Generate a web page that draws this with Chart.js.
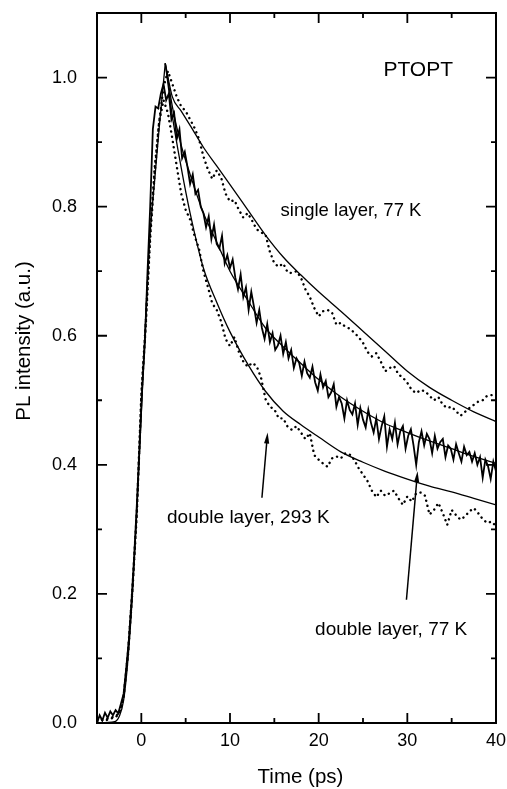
<!DOCTYPE html>
<html>
<head>
<meta charset="utf-8">
<title>PTOPT PL decay</title>
<script src="https://cdn.jsdelivr.net/npm/chart.js@4.4.1/dist/chart.umd.min.js"></script>
<style>
  body { margin: 0; background: #fff; }
  #wrap { position: relative; width: 507px; height: 789px; }
</style>
</head>
<body>
<div id="wrap"><canvas id="plChart"></canvas></div>
<script>
// time grid of the two dotted traces (ps)
const dotTime = [
  -5, -4.5, -4, -3.5, -3, -2.5, -2, -1.5, -1, -0.5,
  0, 0.5, 1, 1.5, 2, 2.5, 3, 3.5, 4, 4.5,
  5, 5.5, 6, 6.5, 7, 7.5, 8, 8.5, 9, 9.5,
  10, 10.5, 11, 11.5, 12, 12.5, 13, 13.5, 14, 14.5,
  15, 15.5, 16, 16.5, 17, 17.5, 18, 18.5, 19, 19.5,
  20, 20.5, 21, 21.5, 22, 22.5, 23, 23.5, 24, 24.5,
  25, 25.5, 26, 26.5, 27, 27.5, 28, 28.5, 29, 29.5,
  30, 30.5, 31, 31.5, 32, 32.5, 33, 33.5, 34, 34.5,
  35, 35.5, 36, 36.5, 37, 37.5, 38, 38.5, 39, 39.5,
  40
];
// single layer, 77 K (dotted, upper)
const singleLayer77 = [
  0.005, 0.004, 0.006, 0.008, 0.01, 0.015, 0.04, 0.11, 0.21, 0.33,
  0.51, 0.62, 0.76, 0.86, 0.93, 0.985, 1.01, 0.99, 0.97, 0.955,
  0.948, 0.935, 0.922, 0.905, 0.878, 0.858, 0.843, 0.856, 0.845, 0.82,
  0.808, 0.81, 0.795, 0.783, 0.79, 0.778, 0.765, 0.76, 0.757, 0.73,
  0.712, 0.707, 0.712, 0.698, 0.697, 0.70, 0.69, 0.672, 0.66, 0.643,
  0.63, 0.638, 0.64, 0.636, 0.617, 0.62, 0.614, 0.611, 0.605, 0.598,
  0.589, 0.575, 0.568, 0.573, 0.56, 0.545, 0.55, 0.553, 0.54, 0.535,
  0.527, 0.516, 0.511, 0.516, 0.514, 0.507, 0.50, 0.505, 0.493, 0.488,
  0.49, 0.483, 0.476, 0.482, 0.488, 0.493, 0.498, 0.50, 0.507, 0.508,
  null
];
// double layer, 293 K (dotted, lower)
const doubleLayer293 = [
  0.003, 0.006, 0.004, 0.007, 0.008, 0.014, 0.04, 0.105, 0.205, 0.325,
  0.505, 0.615, 0.75, 0.85, 0.93, 0.965, 0.945, 0.905, 0.862, 0.82,
  0.795, 0.78, 0.755, 0.735, 0.70, 0.676, 0.65, 0.64, 0.622, 0.595,
  0.584, 0.598, 0.575, 0.56, 0.552, 0.558, 0.553, 0.535, 0.502, 0.49,
  0.486, 0.472, 0.472, 0.459, 0.454, 0.46, 0.45, 0.44, 0.449, 0.415,
  0.408, 0.402, 0.397, 0.41, 0.413, 0.41, 0.418, 0.416, 0.408, 0.395,
  0.385, 0.375, 0.36, 0.35, 0.36, 0.352, 0.356, 0.36, 0.348, 0.338,
  0.351, 0.343, 0.356, 0.357, 0.352, 0.323, 0.33, 0.341, 0.325, 0.307,
  0.33, 0.322, 0.315, 0.32, 0.328, 0.333, 0.325, 0.316, 0.31, 0.312,
  0.305
];

// time grid of the solid (noisy) trace
const solidTime = [
  -5.0, -4.7, -4.4, -4.1, -3.8, -3.5, -3.2, -2.9, -2.6, -2.3,
  -2.0, -1.7, -1.4, -1.1, -0.8, -0.5, -0.2, 0.1, 0.4, 0.7,
  1.0, 1.3, 1.6, 1.9, 2.2, 2.5, 2.8, 3.1, 3.4, 3.7,
  4.0, 4.3, 4.6, 4.9, 5.2, 5.5, 5.8, 6.1, 6.4, 6.7,
  7.0, 7.3, 7.6, 7.9, 8.2, 8.5, 8.8, 9.1, 9.4, 9.7,
  10.0, 10.3, 10.6, 10.9, 11.2, 11.5, 11.8, 12.1, 12.4, 12.7,
  13.0, 13.3, 13.6, 13.9, 14.2, 14.5, 14.8, 15.1, 15.4, 15.7,
  16.0, 16.3, 16.6, 16.9, 17.2, 17.5, 17.8, 18.1, 18.4, 18.7,
  19.0, 19.3, 19.6, 19.9, 20.2, 20.5, 20.8, 21.1, 21.4, 21.7,
  22.0, 22.3, 22.6, 22.9, 23.2, 23.5, 23.8, 24.1, 24.4, 24.7,
  25.0, 25.3, 25.6, 25.9, 26.2, 26.5, 26.8, 27.1, 27.4, 27.7,
  28.0, 28.3, 28.6, 28.9, 29.2, 29.5, 29.8, 30.1, 30.4, 30.7,
  31.0, 31.3, 31.6, 31.9, 32.2, 32.5, 32.8, 33.1, 33.4, 33.7,
  34.0, 34.3, 34.6, 34.9, 35.2, 35.5, 35.8, 36.1, 36.4, 36.7,
  37.0, 37.3, 37.6, 37.9, 38.2, 38.5, 38.8, 39.1, 39.4, 39.7,
  40.0
];
// double layer, 77 K (solid, middle)
const doubleLayer77 = [
  0.0, 0.012, 0.004, 0.016, 0.008, 0.018, 0.012, 0.02, 0.015, 0.03,
  0.045, 0.085, 0.13, 0.19, 0.26, 0.34, 0.43, 0.52, 0.59, 0.70,
  0.80, 0.92, 0.955, 0.952, 0.975, 0.99, 0.965, 0.975, 0.935, 0.945,
  0.905, 0.92, 0.875, 0.885, 0.862, 0.835, 0.85, 0.82, 0.826, 0.80,
  0.79, 0.768, 0.785, 0.75, 0.772, 0.742, 0.735, 0.755, 0.712, 0.725,
  0.705, 0.718, 0.69, 0.672, 0.695, 0.66, 0.675, 0.64, 0.668, 0.645,
  0.62, 0.64, 0.612, 0.595, 0.618, 0.59, 0.604, 0.578, 0.585, 0.60,
  0.572, 0.59, 0.565, 0.578, 0.55, 0.565, 0.558, 0.538, 0.56, 0.542,
  0.535, 0.552, 0.528, 0.515, 0.54, 0.52, 0.53, 0.505, 0.512, 0.525,
  0.49, 0.505, 0.495, 0.472, 0.50, 0.485, 0.478, 0.495, 0.462, 0.488,
  0.47, 0.458, 0.485, 0.465, 0.45, 0.472, 0.44, 0.46, 0.475, 0.428,
  0.455, 0.44, 0.465, 0.432, 0.452, 0.46, 0.425, 0.445, 0.455, 0.43,
  0.40, 0.435, 0.452, 0.43, 0.448, 0.44, 0.418, 0.445, 0.425, 0.435,
  0.44, 0.412, 0.43, 0.425, 0.408, 0.432, 0.418, 0.405, 0.428, 0.415,
  0.42, 0.405, 0.418, 0.40, 0.412, 0.38, 0.408, 0.398, 0.378, 0.405,
  0.39
];

// fitted curves: common rise, then one decay per sample
const riseTime = [-5, -3, -2.5, -2, -1.5, -1, -0.5, 0, 0.5, 1, 1.5, 2, 2.7];
const riseFit = [0, 0.002, 0.01, 0.035, 0.1, 0.2, 0.33, 0.48, 0.63, 0.76, 0.84, 0.92, 1.022];
const decayTime = [2.7, 3.5, 4.5, 5.5, 7, 8.5, 10, 12, 14, 16, 18, 20, 22.5, 25, 27.5, 30, 32.5, 35, 37.5, 40];
const fitSingle77 = [1.022, 0.97, 0.948, 0.926, 0.892, 0.863, 0.834, 0.795, 0.756, 0.722, 0.694, 0.668, 0.638, 0.607, 0.576, 0.545, 0.52, 0.5, 0.482, 0.467];
const fitDouble77 = [1.022, 0.955, 0.895, 0.85, 0.79, 0.745, 0.70, 0.655, 0.612, 0.583, 0.557, 0.532, 0.505, 0.483, 0.464, 0.45, 0.437, 0.425, 0.413, 0.402];
const fitDouble293 = [1.022, 0.94, 0.86, 0.79, 0.705, 0.652, 0.606, 0.556, 0.514, 0.483, 0.462, 0.443, 0.42, 0.404, 0.39, 0.378, 0.367, 0.358, 0.348, 0.338];

const FONT = "'Liberation Sans', Arial, Helvetica, sans-serif";

// text labels and arrows, placed in data units
const notes = [
    { text: 'PTOPT', x: 27.3, y: 1.012, size: 21 },
    { text: 'single layer, 77 K', x: 15.7, y: 0.794, size: 18.5 },
    { text: 'double layer, 293 K', x: 2.9, y: 0.318, size: 19 },
    { text: 'double layer, 77 K', x: 19.6, y: 0.144, size: 19 }
];
const arrows = [
    { from: [13.6, 0.349], to: [14.24, 0.45] },
    { from: [29.9, 0.191], to: [31.15, 0.39] }
];

function pairs(xs, ys) {
    return xs.map((x, i) => ({ x: x, y: ys[i] }));
}

function dotted(label, xs, ys) {
    return {
        label: label, data: pairs(xs, ys),
        borderColor: '#000', borderWidth: 2.4,
        borderDash: [0.1, 5.2], borderCapStyle: 'round',
        pointRadius: 0, tension: 0
    };
}

function fitLine(label, xs, ys) {
    return {
        label: label, data: pairs(xs, ys),
        borderColor: '#000', borderWidth: 1.3,
        pointRadius: 0, cubicInterpolationMode: 'monotone'
    };
}

// frame, inward ticks on all four sides, axis titles, notes
const framePlugin = {
    id: 'framePlugin',
    afterDraw(chart) {
        const { ctx, chartArea: a, scales: { x, y } } = chart;
        ctx.save();
        ctx.strokeStyle = '#000';
        ctx.lineWidth = 2;
        ctx.strokeRect(a.left, a.top, a.right - a.left, a.bottom - a.top);

        ctx.lineWidth = 1.8;
        ctx.beginPath();
        x.ticks.forEach(t => {
            if (t.value <= x.min || t.value >= x.max) return;
            const px = x.getPixelForValue(t.value);
            const len = t.value % 10 === 0 ? 10 : 5;
            ctx.moveTo(px, a.bottom); ctx.lineTo(px, a.bottom - len);
            ctx.moveTo(px, a.top); ctx.lineTo(px, a.top + len);
        });
        y.ticks.forEach(t => {
            if (t.value <= y.min + 1e-9 || t.value >= y.max - 1e-9) return;
            const py = y.getPixelForValue(t.value);
            const len = Math.round(t.value * 10) % 2 === 0 ? 10 : 5;
            ctx.moveTo(a.left, py); ctx.lineTo(a.left + len, py);
            ctx.moveTo(a.right, py); ctx.lineTo(a.right - len, py);
        });
        ctx.stroke();

        ctx.fillStyle = '#000';
        ctx.textBaseline = 'middle';
        ctx.textAlign = 'left';
        notes.forEach(n => {
            ctx.font = n.size + 'px ' + FONT;
            ctx.fillText(n.text, x.getPixelForValue(n.x), y.getPixelForValue(n.y));
        });

        ctx.lineWidth = 1.5;
        arrows.forEach(ar => {
            const x0 = x.getPixelForValue(ar.from[0]), y0 = y.getPixelForValue(ar.from[1]);
            const x1 = x.getPixelForValue(ar.to[0]), y1 = y.getPixelForValue(ar.to[1]);
            const ang = Math.atan2(y1 - y0, x1 - x0);
            ctx.beginPath();
            ctx.moveTo(x0, y0); ctx.lineTo(x1 - 8 * Math.cos(ang), y1 - 8 * Math.sin(ang));
            ctx.stroke();
            ctx.beginPath();
            ctx.moveTo(x1, y1);
            ctx.lineTo(x1 - 11 * Math.cos(ang) + 2.6 * Math.sin(ang), y1 - 11 * Math.sin(ang) - 2.6 * Math.cos(ang));
            ctx.lineTo(x1 - 11 * Math.cos(ang) - 2.6 * Math.sin(ang), y1 - 11 * Math.sin(ang) + 2.6 * Math.cos(ang));
            ctx.closePath();
            ctx.fill();
        });

        // axis titles
        ctx.textAlign = 'center';
        ctx.font = '20.5px ' + FONT;
        ctx.fillText('Time (ps)', (a.left + a.right) / 2 + 4, a.bottom + 54);
        ctx.translate(24, 341);
        ctx.rotate(-Math.PI / 2);
        ctx.fillText('PL intensity (a.u.)', 0, 0);
        ctx.restore();
    }
};

const plChart = new Chart(document.getElementById('plChart'), {
    type: 'line',
    data: {
        datasets: [
            { label: 'double layer, 77 K', data: pairs(solidTime, doubleLayer77),
              borderColor: '#000', borderWidth: 1.8, pointRadius: 0, tension: 0 },
            dotted('single layer, 77 K', dotTime, singleLayer77),
            dotted('double layer, 293 K', dotTime, doubleLayer293),
            fitLine('rise fit', riseTime, riseFit),
            fitLine('fit single 77 K', decayTime, fitSingle77),
            fitLine('fit double 77 K', decayTime, fitDouble77),
            fitLine('fit double 293 K', decayTime, fitDouble293)
        ]
    },
    options: {
        responsive: true,
        maintainAspectRatio: false,
        animation: false,
        layout: { padding: { left: 0, right: 11, top: 13, bottom: 0 } },
        plugins: { legend: { display: false }, tooltip: { enabled: false } },
        scales: {
            x: {
                type: 'linear', min: -5, max: 40,
                grid: { display: false, drawTicks: false },
                border: { display: false },
                ticks: {
                    stepSize: 5, padding: 7, color: '#000', maxRotation: 0, autoSkip: false,
                    font: { family: FONT, size: 18 },
                    callback: v => (v % 10 === 0 ? String(v) : '')
                },
                afterFit: s => {
                    s.height = 66;
                    s.paddingLeft = 0; s.paddingRight = 0;
                }
            },
            y: {
                type: 'linear', min: 0, max: 1.1,
                grid: { display: false, drawTicks: false },
                border: { display: false },
                ticks: {
                    stepSize: 0.1, padding: 20, color: '#000', autoSkip: false,
                    font: { family: FONT, size: 18 },
                    callback: v => (Math.round(v * 10) % 2 === 0 && v < 1.05 ? v.toFixed(1) : '')
                },
                afterFit: s => {
                    s.width = 97;
                    s.paddingTop = 0; s.paddingBottom = 0;
                }
            }
        }
    },
    plugins: [framePlugin]
});
</script>
</body>
</html>
